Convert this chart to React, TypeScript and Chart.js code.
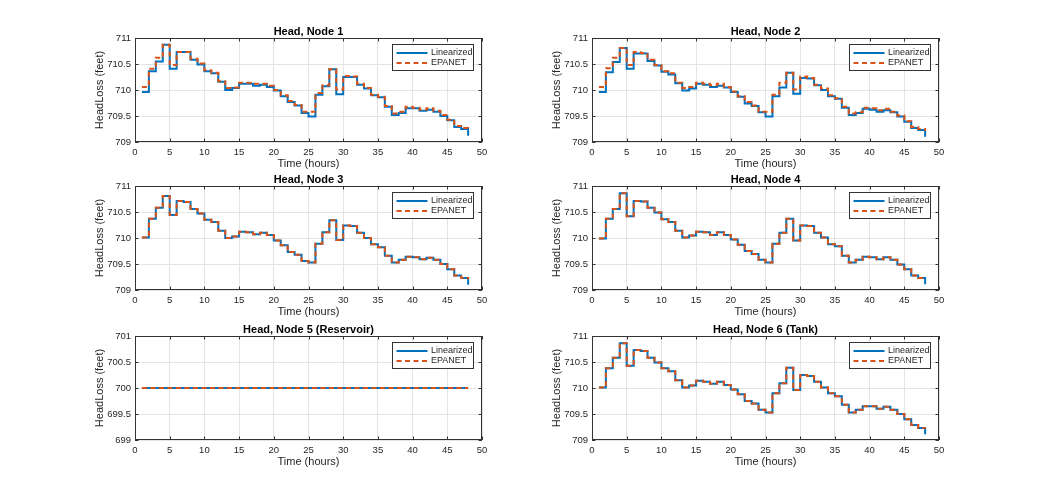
import React, { useEffect, useRef } from "react";
import { Chart, registerables } from "chart.js";

Chart.register(...registerables);

// ---------------- DATA ----------------
const hours = [1, 2, 3, 4, 5, 6, 7, 8, 9, 10, 11, 12, 13, 14, 15, 16, 17, 18, 19, 20, 21, 22, 23, 24, 25, 26, 27, 28, 29, 30, 31, 32, 33, 34, 35, 36, 37, 38, 39, 40, 41, 42, 43, 44, 45, 46, 47, 48];
const xTicks = [0, 5, 10, 15, 20, 25, 30, 35, 40, 45, 50];

const node1Lin = [709.96, 710.36, 710.55, 710.87, 710.41, 710.73, 710.73, 710.58, 710.49, 710.36, 710.32, 710.16, 710.0, 710.04, 710.12, 710.12, 710.08, 710.1, 710.06, 709.99, 709.88, 709.77, 709.7, 709.56, 709.49, 709.91, 710.07, 710.4, 709.92, 710.25, 710.25, 710.1, 710.03, 709.9, 709.86, 709.68, 709.52, 709.56, 709.65, 709.65, 709.6, 709.62, 709.58, 709.5, 709.42, 709.29, 709.25, 709.12];
const node1Epa = [710.06, 710.41, 710.62, 710.87, 710.48, 710.73, 710.73, 710.6, 710.51, 710.38, 710.33, 710.17, 710.04, 710.05, 710.14, 710.14, 710.12, 710.12, 710.08, 710.0, 709.9, 709.79, 709.71, 709.58, 709.58, 709.94, 710.09, 710.4, 710.01, 710.27, 710.26, 710.12, 710.04, 709.91, 709.87, 709.69, 709.55, 709.58, 709.68, 709.66, 709.62, 709.65, 709.6, 709.52, 709.43, 709.31, 709.27, 709.23];

const node2Lin = [709.96, 710.34, 710.54, 710.81, 710.41, 710.7, 710.7, 710.56, 710.47, 710.35, 710.3, 710.13, 709.99, 710.03, 710.12, 710.1, 710.06, 710.08, 710.05, 709.96, 709.87, 709.74, 709.69, 709.57, 709.49, 709.88, 710.05, 710.33, 709.93, 710.23, 710.22, 710.09, 710.0, 709.88, 709.83, 709.66, 709.52, 709.56, 709.64, 709.62, 709.58, 709.61, 709.57, 709.49, 709.39, 709.27, 709.23, 709.1];
const node2Epa = [710.06, 710.42, 710.62, 710.81, 710.48, 710.73, 710.71, 710.58, 710.48, 710.36, 710.32, 710.14, 710.04, 710.06, 710.14, 710.12, 710.09, 710.12, 710.06, 709.97, 709.88, 709.77, 709.7, 709.58, 709.58, 709.91, 710.14, 710.33, 710.01, 710.26, 710.23, 710.1, 710.03, 709.9, 709.84, 709.68, 709.55, 709.57, 709.66, 709.65, 709.61, 709.64, 709.58, 709.51, 709.4, 709.29, 709.25, 709.21];

const node3Lin = [710.01, 710.37, 710.58, 710.81, 710.44, 710.71, 710.69, 710.56, 710.47, 710.35, 710.31, 710.14, 710.0, 710.03, 710.12, 710.11, 710.07, 710.1, 710.06, 709.95, 709.86, 709.73, 709.68, 709.56, 709.53, 709.89, 710.11, 710.34, 709.96, 710.24, 710.23, 710.1, 710.0, 709.88, 709.82, 709.66, 709.53, 709.58, 709.64, 709.63, 709.59, 709.62, 709.58, 709.5, 709.4, 709.28, 709.23, 709.1];
const node3Epa = [710.01, 710.37, 710.58, 710.81, 710.44, 710.71, 710.69, 710.56, 710.47, 710.35, 710.31, 710.14, 710.0, 710.03, 710.12, 710.11, 710.07, 710.1, 710.06, 709.95, 709.86, 709.73, 709.68, 709.56, 709.53, 709.89, 710.11, 710.34, 709.96, 710.24, 710.23, 710.1, 710.0, 709.88, 709.82, 709.66, 709.53, 709.58, 709.64, 709.63, 709.59, 709.62, 709.58, 709.5, 709.4, 709.28, 709.23, 709.2];

const node4Lin = [709.99, 710.37, 710.56, 710.86, 710.42, 710.71, 710.7, 710.58, 710.49, 710.36, 710.31, 710.14, 710.01, 710.05, 710.12, 710.11, 710.06, 710.11, 710.06, 709.97, 709.87, 709.75, 709.69, 709.58, 709.53, 709.89, 710.1, 710.37, 709.95, 710.24, 710.23, 710.1, 710.01, 709.88, 709.84, 709.66, 709.53, 709.58, 709.64, 709.63, 709.59, 709.63, 709.58, 709.49, 709.4, 709.28, 709.23, 709.11];
const node4Epa = [709.99, 710.37, 710.56, 710.86, 710.42, 710.71, 710.7, 710.58, 710.49, 710.36, 710.31, 710.14, 710.01, 710.05, 710.12, 710.11, 710.06, 710.11, 710.06, 709.97, 709.87, 709.75, 709.69, 709.58, 709.53, 709.89, 710.1, 710.37, 709.95, 710.24, 710.23, 710.1, 710.01, 709.88, 709.84, 709.66, 709.53, 709.58, 709.64, 709.63, 709.59, 709.63, 709.58, 709.49, 709.4, 709.28, 709.23, 709.21];

const node5Lin = [700, 700, 700, 700, 700, 700, 700, 700, 700, 700, 700, 700, 700, 700, 700, 700, 700, 700, 700, 700, 700, 700, 700, 700, 700, 700, 700, 700, 700, 700, 700, 700, 700, 700, 700, 700, 700, 700, 700, 700, 700, 700, 700, 700, 700, 700, 700, 700];
const node5Epa = [700, 700, 700, 700, 700, 700, 700, 700, 700, 700, 700, 700, 700, 700, 700, 700, 700, 700, 700, 700, 700, 700, 700, 700, 700, 700, 700, 700, 700, 700, 700, 700, 700, 700, 700, 700, 700, 700, 700, 700, 700, 700, 700, 700, 700, 700, 700, 700];

const node6Lin = [710.01, 710.38, 710.58, 710.86, 710.43, 710.73, 710.71, 710.58, 710.49, 710.38, 710.32, 710.15, 710.01, 710.05, 710.14, 710.12, 710.08, 710.12, 710.06, 709.97, 709.88, 709.75, 709.7, 709.58, 709.53, 709.9, 710.09, 710.39, 709.96, 710.25, 710.23, 710.12, 710.01, 709.9, 709.84, 709.68, 709.53, 709.58, 709.65, 709.65, 709.6, 709.64, 709.58, 709.5, 709.4, 709.29, 709.23, 709.11];
const node6Epa = [710.01, 710.38, 710.58, 710.86, 710.43, 710.73, 710.71, 710.58, 710.49, 710.38, 710.32, 710.15, 710.01, 710.05, 710.14, 710.12, 710.08, 710.12, 710.06, 709.97, 709.88, 709.75, 709.7, 709.58, 709.53, 709.9, 710.09, 710.39, 709.96, 710.25, 710.23, 710.12, 710.01, 709.9, 709.84, 709.68, 709.53, 709.58, 709.65, 709.65, 709.6, 709.64, 709.58, 709.5, 709.4, 709.29, 709.23, 709.22];

const titles = ["Head, Node 1", "Head, Node 2", "Head, Node 3", "Head, Node 4", "Head, Node 5 (Reservoir)", "Head, Node 6 (Tank)"];
const linSeries = [node1Lin, node2Lin, node3Lin, node4Lin, node5Lin, node6Lin];
const epaSeries = [node1Epa, node2Epa, node3Epa, node4Epa, node5Epa, node6Epa];
const yRanges = [[709, 711], [709, 711], [709, 711], [709, 711], [699, 701], [709, 711]];
const legendLabels = ["Linearized", "EPANET"];
const xLabel = "Time (hours)";
const yLabel = "HeadLoss (feet)";

// ---------------- LAYOUT ----------------
const COL_LEFT = [135, 592];
const ROW_TOP = [38, 186, 336];
const PW = 347;
const PH = 104;
const PADL = 60;
const PADT = 22;
const PADR = 12;
const PADB = 34;

const BLUE = "#0072BD";
const RED = "#D95319";
const AX = "#262626";
const FONT = "'Liberation Sans', Arial, Helvetica, sans-serif";

const matlabPlugin = {
  id: "matlab",
  afterDatasetsDraw(chart: any, _args: any, opts: any) {
    const { ctx, chartArea: a, scales } = chart;
    ctx.save();
    // box
    ctx.strokeStyle = "#333333";
    ctx.lineWidth = 1;
    ctx.strokeRect(Math.round(a.left) + 0.5, Math.round(a.top) + 0.5, Math.round(a.right - a.left) - 1, Math.round(a.bottom - a.top) - 1);
    // inward ticks
    const tl = 3.5;
    ctx.beginPath();
    scales.x.ticks.forEach((t: any) => {
      const px = Math.round(scales.x.getPixelForValue(t.value)) + 0.5;
      ctx.moveTo(px, a.bottom);
      ctx.lineTo(px, a.bottom - tl);
      ctx.moveTo(px, a.top);
      ctx.lineTo(px, a.top + tl);
    });
    scales.y.ticks.forEach((t: any) => {
      const py = Math.round(scales.y.getPixelForValue(t.value)) + 0.5;
      ctx.moveTo(a.left, py);
      ctx.lineTo(a.left + tl, py);
      ctx.moveTo(a.right, py);
      ctx.lineTo(a.right - tl, py);
    });
    ctx.stroke();

    // legend
    const bw = 81, bh = 26;
    const bx = Math.round(a.right - 9 - bw) + 0.5;
    const by = Math.round(a.top + 6) + 0.5;
    ctx.fillStyle = "#ffffff";
    ctx.fillRect(bx, by, bw, bh);
    ctx.strokeStyle = "#333333";
    ctx.lineWidth = 1;
    ctx.strokeRect(bx, by, bw, bh);
    const rows = [by + 8.5, by + 18.5];
    ctx.lineWidth = 2;
    ctx.strokeStyle = BLUE;
    ctx.setLineDash([]);
    ctx.beginPath();
    ctx.moveTo(bx + 4, rows[0]);
    ctx.lineTo(bx + 35, rows[0]);
    ctx.stroke();
    ctx.strokeStyle = RED;
    ctx.setLineDash([5, 3.5]);
    ctx.beginPath();
    ctx.moveTo(bx + 4, rows[1]);
    ctx.lineTo(bx + 35, rows[1]);
    ctx.stroke();
    ctx.setLineDash([]);
    ctx.fillStyle = AX;
    ctx.font = `9px ${FONT}`;
    ctx.textAlign = "left";
    ctx.textBaseline = "middle";
    ctx.fillText(legendLabels[0], bx + 38.5, rows[0]);
    ctx.fillText(legendLabels[1], bx + 38.5, rows[1]);

    // title
    ctx.fillStyle = "#000000";
    ctx.font = `bold 11px ${FONT}`;
    ctx.textAlign = "center";
    ctx.textBaseline = "alphabetic";
    ctx.fillText(opts.title, (a.left + a.right) / 2, a.top - 3);

    // axis labels
    ctx.fillStyle = AX;
    ctx.font = `11px ${FONT}`;
    ctx.textBaseline = "middle";
    ctx.fillText(xLabel, (a.left + a.right) / 2, a.bottom + 22);
    ctx.save();
    ctx.translate(a.left - 35, (a.top + a.bottom) / 2);
    ctx.rotate(-Math.PI / 2);
    ctx.fillText(yLabel, 0, 0);
    ctx.restore();
    ctx.restore();
  },
};

function Panel({ idx }: { idx: number }) {
  const ref = useRef<HTMLCanvasElement | null>(null);
  const col = idx % 2;
  const row = Math.floor(idx / 2);
  const left = COL_LEFT[col] - PADL;
  const top = ROW_TOP[row] - PADT;
  const w = PW + PADL + PADR;
  const h = PH + PADT + PADB;

  useEffect(() => {
    if (!ref.current) return;
    const lin = linSeries[idx];
    const epa = epaSeries[idx];
    const [yMin, yMax] = yRanges[idx];
    const chart = new Chart(ref.current, {
      type: "line",
      data: {
        datasets: [
          {
            label: legendLabels[1],
            data: hours.map((hh, i) => ({ x: hh, y: epa[i] })),
            borderColor: RED,
            borderWidth: 2,
            borderDash: [5, 3.5],
            stepped: true,
            pointRadius: 0,
            fill: false,
            order: 0,
          },
          {
            label: legendLabels[0],
            data: hours.map((hh, i) => ({ x: hh, y: lin[i] })),
            borderColor: BLUE,
            borderWidth: 2,
            stepped: true,
            pointRadius: 0,
            fill: false,
            order: 1,
          },
        ],
      } as any,
      options: {
        responsive: false,
        maintainAspectRatio: false,
        animation: false,
        events: [],
        layout: { padding: { left: 0, top: PADT, right: PADR, bottom: 0 } },
        plugins: {
          legend: { display: false },
          tooltip: { enabled: false },
          title: { display: false },
          matlab: { title: titles[idx] },
        } as any,
        scales: {
          x: {
            type: "linear",
            min: 0,
            max: 50,
            afterBuildTicks: (s: any) => {
              s.ticks = xTicks.map((v) => ({ value: v }));
            },
            ticks: {
              color: AX,
              font: { family: FONT, size: 9.5 },
              padding: 5,
              maxRotation: 0,
              autoSkip: false,
              callback: (v: any) => String(Number(Number(v).toFixed(2))),
            },
            grid: { color: "#e4e4e4", drawTicks: false, lineWidth: 1 },
            border: { display: false },
            afterFit: (s: any) => {
              s.height = PADB;
            },
          },
          y: {
            type: "linear",
            min: yMin,
            max: yMax,
            ticks: {
              stepSize: 0.5,
              color: AX,
              font: { family: FONT, size: 9.5 },
              padding: 4,
              callback: (v: any) => String(Number(Number(v).toFixed(2))),
            },
            grid: { color: "#e4e4e4", drawTicks: false, lineWidth: 1 },
            border: { display: false },
            afterFit: (s: any) => {
              s.width = PADL;
            },
          },
        },
      } as any,
      plugins: [matlabPlugin],
    });
    return () => chart.destroy();
  }, [idx]);

  return (
    <canvas
      ref={ref}
      width={w}
      height={h}
      style={{ position: "absolute", left, top, width: w, height: h }}
    />
  );
}

export default function App() {
  return (
    <div
      style={{
        position: "fixed",
        left: 0,
        top: 0,
        width: 1038,
        height: 496,
        background: "#ffffff",
        overflow: "hidden",
      }}
    >
      {[0, 1, 2, 3, 4, 5].map((i) => (
        <Panel key={i} idx={i} />
      ))}
    </div>
  );
}
